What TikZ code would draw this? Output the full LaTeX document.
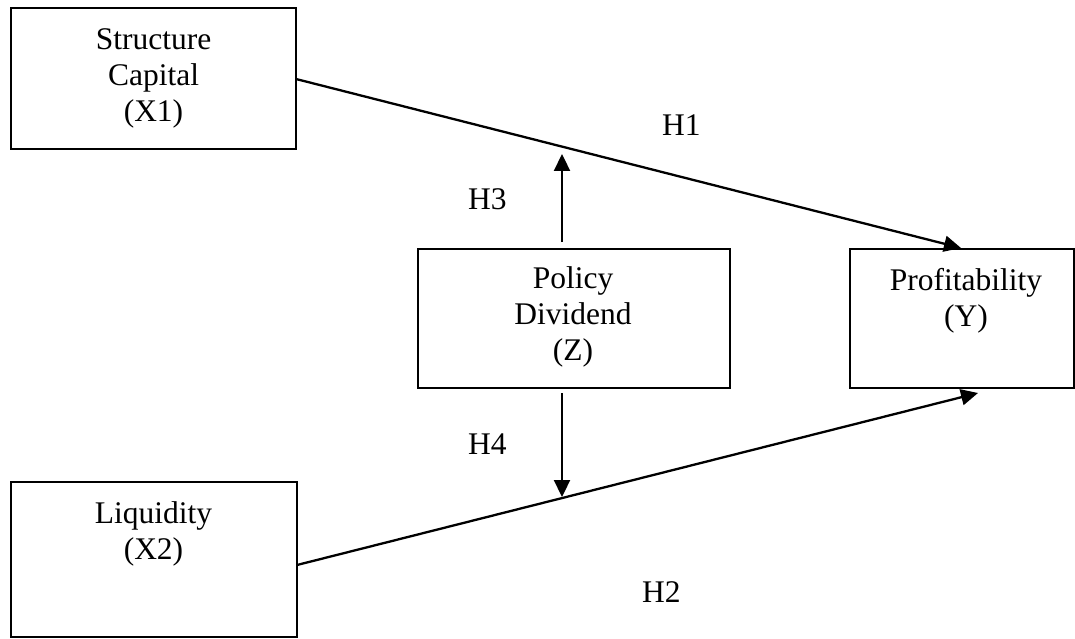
\documentclass[tikz,border=0pt]{standalone}
\usepackage{fontspec}
\setmainfont{Liberation Serif}
\usetikzlibrary{arrows.meta}
\begin{document}
\begin{tikzpicture}[x=1pt,y=-1pt,
  varbox/.style={draw=black,line width=1.8pt,rectangle,inner sep=0pt},
  boxtext/.style={anchor=north,inner sep=0pt,align=center,font=\fontsize{31.5}{36}\selectfont},
  hlabel/.style={anchor=base west,inner sep=0pt,font=\fontsize{31.5}{36}\selectfont},
  link/.style={line width=2.3pt,-{Triangle[length=17pt,width=16pt]}}]
\useasboundingbox (0,0) rectangle (1075,639);
% boxes
\node[varbox,minimum width=285pt,minimum height=141pt] (x1) at (153.5,78.5) {};
\node[varbox,minimum width=312pt,minimum height=139pt] (z) at (574,318.5) {};
\node[varbox,minimum width=224pt,minimum height=139pt] (y) at (962,318.5) {};
\node[varbox,minimum width=286pt,minimum height=155pt] (x2) at (154,559.5) {};
% texts
\node[boxtext] (x1t) at (153.5,28.5) {Structure\\Capital\\(X1)};
\node[boxtext] (zt) at (573,266.5) {Policy\\Dividend\\(Z)};
\node[boxtext] (yt) at (966,268.5) {Profitability\\(Y)};
\node[boxtext] (x2t) at (153.5,501.5) {Liquidity\\(X2)};
% connector coordinates
\coordinate (h1s) at (296,79);
\coordinate (h1e) at (961,248);
\coordinate (h2s) at (297,565);
\coordinate (h2e) at (978,393);
\coordinate (h3s) at (562,242);
\coordinate (h3e) at (562,154);
\coordinate (h4s) at (562,393);
\coordinate (h4e) at (562,497);
% connectors
\draw[link] (h1s) -- (h1e);
\draw[link] (h2s) -- (h2e);
\draw[link] (h3s) -- (h3e);
\draw[link] (h4s) -- (h4e);
% labels
\node[hlabel] (l1) at (662,136) {H1};
\node[hlabel] (l3) at (468,209) {H3};
\node[hlabel] (l4) at (468,454) {H4};
\node[hlabel] (l2) at (642,602) {H2};
\end{tikzpicture}
\end{document}
